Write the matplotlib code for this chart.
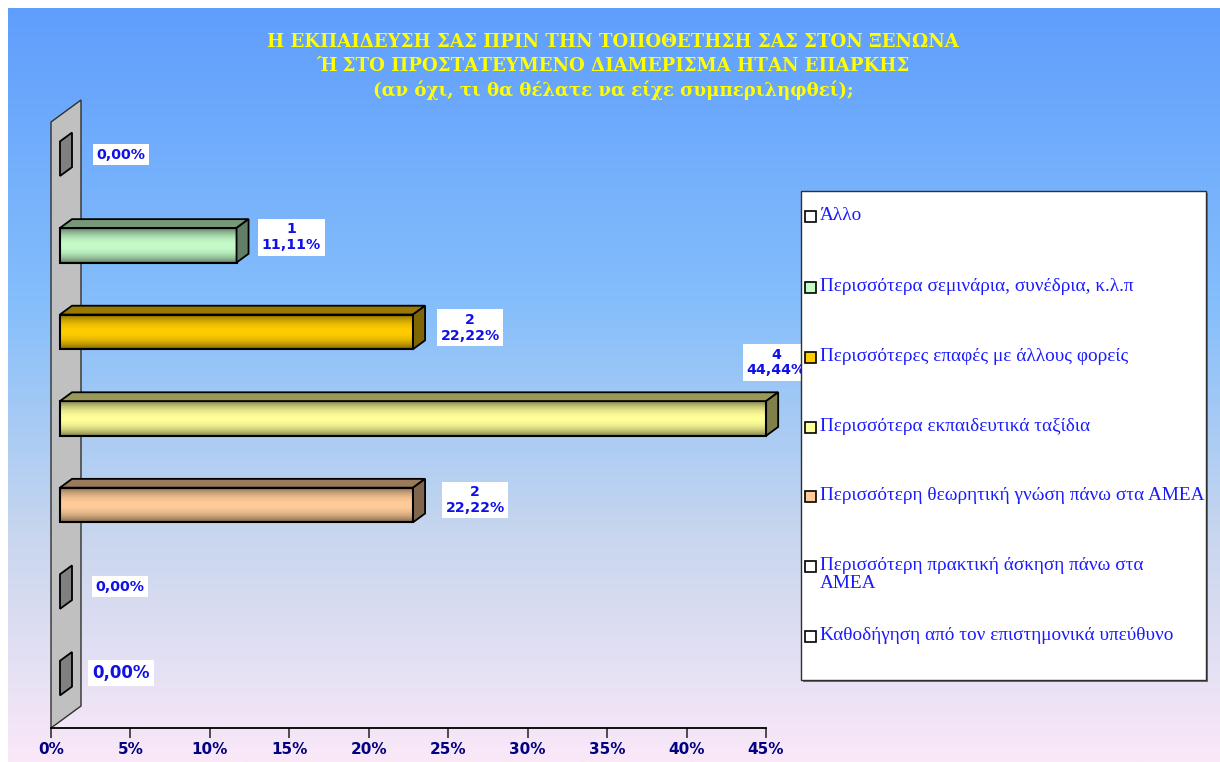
import numpy as np
import matplotlib.pyplot as plt
from matplotlib.patches import Polygon, Rectangle
from matplotlib.colors import to_rgb

W, H = 1220, 762

title_lines = [
    'Η ΕΚΠΑΙΔΕΥΣΗ ΣΑΣ ΠΡΙΝ ΤΗΝ ΤΟΠΟΘΕΤΗΣΗ ΣΑΣ ΣΤΟΝ ΞΕΝΩΝΑ',
    'Ή ΣΤΟ ΠΡΟΣΤΑΤΕΥΜΕΝΟ ΔΙΑΜΕΡΙΣΜΑ ΗΤΑΝ ΕΠΑΡΚΗΣ',
    '(αν όχι, τι θα θέλατε να είχε συμπεριληφθεί);',
]

# categories from top to bottom
categories = [
    'Άλλο',
    'Περισσότερα σεμινάρια, συνέδρια, κ.λ.π',
    'Περισσότερες επαφές με άλλους φορείς',
    'Περισσότερα εκπαιδευτικά ταξίδια',
    'Περισσότερη θεωρητική γνώση πάνω στα ΑΜΕΑ',
    'Περισσότερη πρακτική άσκηση πάνω στα\nΑΜΕΑ',
    'Καθοδήγηση από τον επιστημονικά υπεύθυνο',
]
counts = [0, 1, 2, 4, 2, 0, 0]
bar_colors = ['#ffffff', '#c4fcc8', '#ffcc00', '#ffff99', '#ffcc99', '#ffffff', '#ffffff']
xticks = [0, 5, 10, 15, 20, 25, 30, 35, 40, 45]

# label offsets (pixels) from the front end of each bar
label_offsets = [(61, 4), (55, 8), (57, 4), (10, 56), (62, 5), (60, 5), (61, 5)]
label_sizes = [10.2, 10.2, 10.2, 10.2, 10.2, 10.2, 12]

pct = np.array(counts) / sum(counts) * 100

fig = plt.figure(figsize=(W / 100, H / 100), dpi=100, facecolor='white')

# background gradient
bg = fig.add_axes([0, 0, 1, 1], zorder=-1)
bg.set_xlim(0, W)
bg.set_ylim(H, 0)
bg.axis('off')
stops = [(0.0, '#5f9efd'), (0.4, '#86bffb'), (0.7, '#c8d6ee'), (1.0, '#fae8f8')]
t = np.linspace(0, 1, 300)
grad = np.stack([np.interp(t, [s[0] for s in stops], [to_rgb(s[1])[k] for s in stops]) for k in range(3)], axis=-1)
bg.imshow(grad[:, None, :], extent=(8, W, H, 8), aspect='auto', interpolation='bilinear')

# main plot area = front plane of the 3d box
x0, x1, y0, y1 = 51, 766, 122, 728
ax = fig.add_axes([x0 / W, 1 - y1 / H, (x1 - x0) / W, (y1 - y0) / H], zorder=1)
ax.patch.set_visible(False)
xmax, n = 45, len(categories)
DX = 30 / (x1 - x0) * xmax
DY = 22 / (y1 - y0) * n
h = 0.4

# side wall
ax.add_patch(Polygon([(0, n), (0, 0), (DX, -DY), (DX, n - DY)], closed=True,
                     facecolor='#c0c0c0', edgecolor='#303030', lw=1, clip_on=False, zorder=1))

fx, fy = 0.3 * DX, 0.3 * DY
bx, by = 0.7 * DX, 0.7 * DY
prof = np.linspace(0, 1, 64)
shade = 0.45 + 0.55 * np.sin(np.pi * prof) ** 0.7

for i, (v, col) in enumerate(zip(pct, bar_colors)):
    base = np.array(to_rgb(col))
    c = i + 0.5
    ftop, fbot = c - fy - h / 2, c - fy + h / 2
    btop, bbot = c - by - h / 2, c - by + h / 2
    if v > 0:
        img = (shade[:, None] * base[None, :])[:, None, :]
        ax.imshow(img, extent=(fx, fx + v, fbot, ftop), aspect='auto',
                  interpolation='bilinear', zorder=2, clip_on=False)
        ax.add_patch(Rectangle((fx, ftop), v, h, fill=False, edgecolor='black', lw=1.5,
                               zorder=3, clip_on=False))
        ax.add_patch(Polygon([(fx, ftop), (fx + v, ftop), (bx + v, btop), (bx, btop)],
                             facecolor=base * 0.6, edgecolor='black', lw=1.3, zorder=3, clip_on=False))
    ax.add_patch(Polygon([(fx + v, ftop), (fx + v, fbot), (bx + v, bbot), (bx + v, btop)],
                         facecolor=base * 0.5, edgecolor='black', lw=1.3, zorder=3, clip_on=False))

    txt = f'{v:.2f}%'.replace('.', ',')
    if counts[i] > 0:
        txt = f'{counts[i]}\n{txt}'
    ax.annotate(txt, xy=(fx + v, c - fy), xytext=label_offsets[i], textcoords='offset pixels',
                ha='center', va='center', fontsize=label_sizes[i], fontweight='bold',
                color='#1010e8', family='DejaVu Sans', linespacing=1.15, zorder=5,
                annotation_clip=False,
                bbox=dict(boxstyle='square,pad=0.25', facecolor='white', edgecolor='none'))

ax.set_xlim(0, xmax)
ax.set_ylim(n, 0)
ax.set_yticks([])
ax.set_xticks(xticks)
ax.set_xticklabels([f'{t}%' for t in xticks], fontweight='bold', family='DejaVu Sans')
ax.tick_params(axis='x', length=7, width=1.3, color='#404040', pad=3, labelsize=11,
               labelcolor='#000080')
for s in ['left', 'right', 'top']:
    ax.spines[s].set_visible(False)
ax.spines['bottom'].set_linewidth(1.3)

# overlay for title and legend
ov = fig.add_axes([0, 0, 1, 1], zorder=3)
ov.set_xlim(0, W)
ov.set_ylim(H, 0)
ov.axis('off')
ov.patch.set_visible(False)

for y, line in zip([42, 66, 90], title_lines):
    ov.text(613, y, line, ha='center', va='center', fontsize=13.1, fontweight='bold',
            family='DejaVu Serif', color='#ffff00')

# legend box
ov.add_patch(Rectangle((803, 193), 405, 489, facecolor='#707070', edgecolor='none'))
ov.add_patch(Rectangle((801, 191), 405, 489, facecolor='white', edgecolor='#303030', lw=1))
leg_y = [216, 287, 357, 427, 496, 566, 636]
for yy, lab, col in zip(leg_y, categories, bar_colors):
    ov.add_patch(Rectangle((805, yy - 5.5), 11, 11, facecolor=col, edgecolor='black', lw=1.2))
    ov.text(820, yy - 9, lab, ha='left', va='top', fontsize=13.9, family='Liberation Serif',
            color='#1a1aff', linespacing=1.05)

fig.savefig('out.png', dpi=100, facecolor='white')
